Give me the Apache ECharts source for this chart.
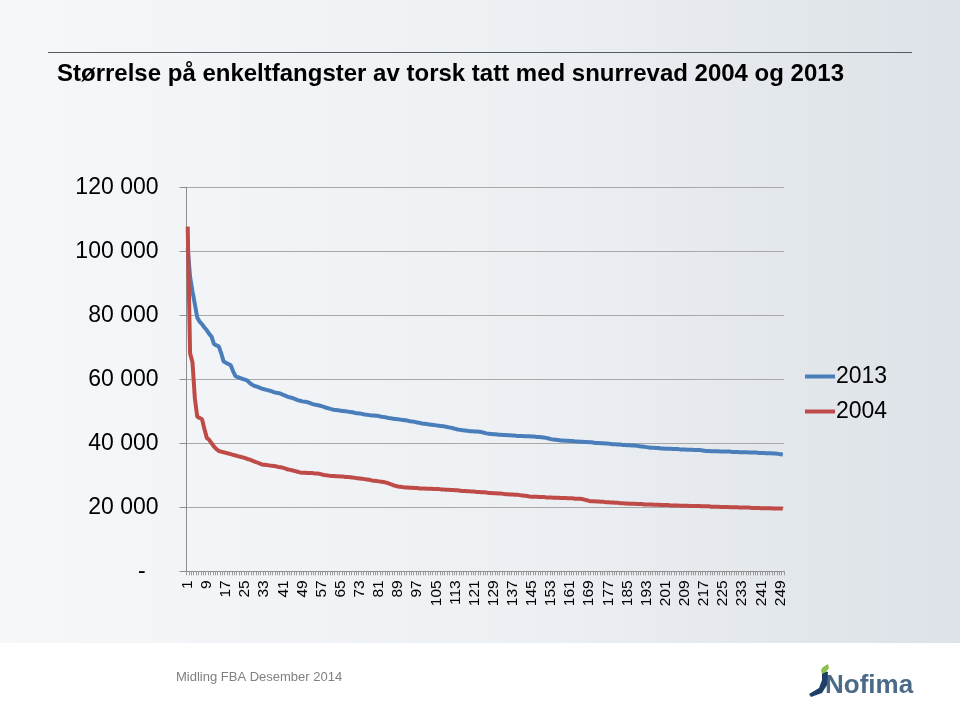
<!DOCTYPE html>
<html>
<head>
<meta charset="utf-8">
<script src="https://cdn.jsdelivr.net/npm/echarts@6/dist/echarts.min.js"></script>
<style>
html,body{margin:0;padding:0;background:#fff;}
#chart{width:960px;height:702px;}
</style>
</head>
<body>
<div id="chart"></div>
<script>
var titleText = 'Størrelse på enkeltfangster av torsk tatt med snurrevad 2004 og 2013';
var footerText = 'Midling FBA Desember 2014';
var seriesNames = ['2013', '2004'];
var yTicks = [0, 20000, 40000, 60000, 80000, 100000, 120000];

var values2013 = [
101000,92000,87500,83500,79300,78000,77200,76200,75300,74200,
73300,71000,70600,70300,68200,65600,65200,64800,64400,62500,
61000,60700,60400,60100,59900,59600,58800,58300,57900,57700,
57400,57100,56900,56700,56500,56300,56000,55800,55700,55500,
55100,54800,54500,54300,54100,53800,53500,53300,53100,53000,
52900,52600,52300,52100,52000,51800,51600,51400,51100,50900,
50700,50500,50400,50300,50200,50100,50000,49900,49800,49700,
49500,49400,49300,49200,49000,48900,48800,48700,48700,48600,
48500,48300,48200,48100,47900,47800,47700,47600,47500,47400,
47300,47200,47100,46900,46800,46700,46500,46400,46200,46100,
46000,45900,45800,45700,45600,45500,45400,45300,45200,45000,
44900,44700,44500,44300,44200,44100,44000,43900,43800,43800,
43700,43700,43600,43500,43300,43100,43000,42900,42800,42800,
42700,42700,42600,42600,42500,42500,42400,42400,42300,42300,
42300,42200,42200,42200,42100,42100,42000,42000,41900,41800,
41700,41500,41300,41200,41100,41000,40900,40900,40800,40800,
40700,40700,40600,40600,40500,40500,40400,40400,40300,40300,
40200,40100,40100,40000,40000,39900,39900,39800,39700,39700,
39600,39600,39500,39500,39400,39400,39300,39300,39200,39100,
39000,38900,38800,38700,38600,38600,38500,38500,38400,38400,
38300,38300,38300,38200,38200,38200,38100,38100,38100,38000,
38000,38000,37900,37900,37900,37800,37700,37600,37600,37500,
37500,37500,37500,37400,37400,37400,37400,37400,37300,37300,
37300,37200,37200,37200,37200,37100,37100,37100,37100,37000,
37000,37000,36900,36900,36900,36800,36800,36700,36600,36500
];

var values2004 = [
107700,68100,65300,54000,48300,47900,47500,44500,41700,41100,
40000,39000,38200,37600,37400,37200,37000,36800,36600,36400,
36200,36000,35800,35600,35400,35100,34900,34600,34300,34000,
33700,33400,33300,33200,33100,33000,32900,32800,32600,32500,
32300,32100,31800,31700,31500,31300,31100,30900,30800,30800,
30700,30700,30700,30600,30600,30500,30300,30100,30000,29900,
29800,29800,29700,29700,29600,29600,29500,29500,29400,29300,
29200,29100,29000,28900,28800,28700,28600,28400,28300,28200,
28100,28000,27900,27700,27500,27200,26900,26700,26500,26400,
26300,26200,26200,26100,26100,26000,26000,25900,25900,25900,
25800,25800,25800,25700,25700,25700,25600,25600,25500,25500,
25400,25400,25300,25300,25200,25100,25100,25000,25000,24900,
24900,24800,24800,24700,24700,24600,24500,24500,24400,24400,
24300,24300,24200,24100,24100,24000,24000,23900,23900,23800,
23700,23600,23500,23400,23300,23300,23300,23200,23200,23200,
23100,23100,23100,23000,23000,23000,22900,22900,22900,22800,
22800,22800,22700,22700,22700,22600,22400,22200,22000,21900,
21900,21800,21800,21700,21700,21600,21600,21500,21500,21400,
21400,21300,21300,21200,21200,21100,21100,21100,21000,21000,
21000,20900,20900,20900,20900,20800,20800,20800,20700,20700,
20700,20700,20600,20600,20600,20600,20500,20500,20500,20500,
20400,20400,20400,20400,20400,20300,20300,20300,20300,20200,
20200,20200,20200,20100,20100,20100,20100,20000,20000,20000,
20000,19900,19900,19900,19900,19900,19800,19800,19800,19800,
19700,19700,19700,19700,19700,19600,19600,19600,19600,19600
];

var categories = [];
for (var i = 1; i <= values2013.length; i++) categories.push(String(i));

function fmtY(v) {
  if (v === 0) return '-  ';
  var s = String(v);
  return s.replace(/\B(?=(\d{3})+(?!\d))/g, ' ');
}

var chart = echarts.init(document.getElementById('chart'), null, {renderer: 'canvas'});
var fontFam = '"Liberation Sans", Arial, sans-serif';

var option = {
  animation: false,
  backgroundColor: {
    type: 'linear', x: 0, y: 0, x2: 1, y2: 0,
    colorStops: [
      {offset: 0, color: '#f5f7f9'},
      {offset: 0.5, color: '#eef1f4'},
      {offset: 1, color: '#dde2e8'}
    ]
  },
  graphic: [
    {type: 'rect', x: 0, y: 643, shape: {x: 0, y: 0, width: 960, height: 59}, style: {fill: '#ffffff'}, z: -10, silent: true},
    {type: 'line', shape: {x1: 48, y1: 52.5, x2: 912, y2: 52.5}, style: {stroke: '#555a60', lineWidth: 1}, silent: true},
    {type: 'text', x: 57, y: 62, style: {text: titleText, font: 'bold 24px "Liberation Sans", Arial, sans-serif', fill: '#000000'}, silent: true},
    {type: 'text', x: 176, y: 671, style: {text: footerText, font: '13px "Liberation Sans", Arial, sans-serif', fill: '#808080'}, silent: true},
    {type: 'text', x: 825, y: 673, style: {text: 'Nofima', font: 'bold 26px "Liberation Sans", Arial, sans-serif', fill: '#4a6a88'}, silent: true},
    {type: 'polygon', silent: true, shape: {points: [[822,671],[822,680],[819,688],[809,694],[811,697],[822,693],[827,685],[828,672]]}, style: {fill: '#1f3f66'}},
    {type: 'polygon', silent: true, shape: {points: [[822,674],[821,670],[823,667],[828,664],[829,668],[826,672]]}, style: {fill: '#8cc04a'}}
  ],
  legend: {
    orient: 'vertical',
    left: 800,
    top: 360,
    itemWidth: 30,
    itemHeight: 4,
    itemGap: 12,
    icon: 'rect',
    data: seriesNames,
    textStyle: {fontFamily: fontFam, fontSize: 23, color: '#000000', padding: [0, 0, 0, -4]}
  },
  grid: {left: 186.5, right: 176, top: 187.3, bottom: 130.7, containLabel: false},
  xAxis: {
    type: 'category',
    data: categories,
    boundaryGap: true,
    axisLine: {show: true, lineStyle: {color: '#8c8c8c', width: 1}},
    axisTick: {show: true, interval: 0, length: 4, lineStyle: {color: '#9a9a9a'}},
    axisLabel: {interval: 7, rotate: 90, margin: 9, fontFamily: fontFam, fontSize: 15.5, color: '#000000'},
    splitLine: {show: false}
  },
  yAxis: {
    type: 'value',
    min: 0,
    max: 120000,
    interval: 20000,
    axisLine: {show: true, lineStyle: {color: '#8c8c8c', width: 1}},
    axisTick: {show: true, length: 7, lineStyle: {color: '#8c8c8c'}},
    axisLabel: {margin: 28, fontFamily: fontFam, fontSize: 23, color: '#000000', formatter: fmtY},
    splitLine: {show: true, lineStyle: {color: '#a8a8a8', width: 1}}
  },
  series: [
    {name: seriesNames[0], type: 'line', data: values2013, showSymbol: false, symbol: 'none',
     lineStyle: {color: '#4a7ebb', width: 4}, itemStyle: {color: '#4a7ebb'}},
    {name: seriesNames[1], type: 'line', data: values2004, showSymbol: false, symbol: 'none',
     lineStyle: {color: '#be4b48', width: 4}, itemStyle: {color: '#be4b48'}}
  ]
};
chart.setOption(option);
</script>
</body>
</html>
